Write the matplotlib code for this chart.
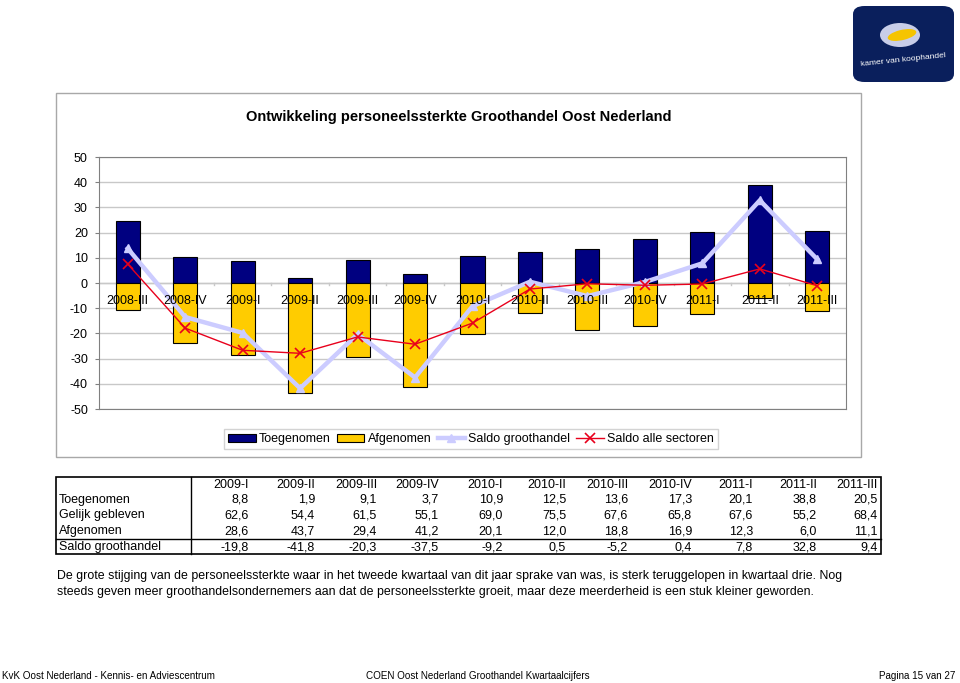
import matplotlib
matplotlib.use('Agg')
import matplotlib.pyplot as plt
from matplotlib.patches import Rectangle, FancyBboxPatch, Ellipse
from matplotlib.lines import Line2D
import numpy as np

plt.rcParams['font.family'] = ['Liberation Sans', 'DejaVu Sans']
plt.rcParams['axes.unicode_minus'] = False

# chart data (2008-III and 2008-IV)
kwartalen = ['2008-III', '2008-IV', '2009-I', '2009-II', '2009-III', '2009-IV', '2010-I',
             '2010-II', '2010-III', '2010-IV', '2011-I', '2011-II', '2011-III']
toegenomen = [24.5, 10.3, 8.8, 1.9, 9.1, 3.7, 10.9, 12.5, 13.6, 17.3, 20.1, 38.8, 20.5]
afgenomen = [10.8, 23.8, 28.6, 43.7, 29.4, 41.2, 20.1, 12.0, 18.8, 16.9, 12.3, 6.0, 11.1]
saldo_groothandel = [13.7, -13.5, -19.8, -41.8, -20.3, -37.5, -9.2, 0.5, -5.2, 0.4, 7.8, 32.8, 9.4]
saldo_alle = [7.5, -17.9, -26.7, -27.9, -21.4, -24.3, -15.9, -2.4, -0.3, -0.9, -0.4, 5.6, -1.1]

# table data
tabel_kolommen = ['2009-I', '2009-II', '2009-III', '2009-IV', '2010-I', '2010-II',
                  '2010-III', '2010-IV', '2011-I', '2011-II', '2011-III']
tabel_rijen = ['Toegenomen', 'Gelijk gebleven', 'Afgenomen', 'Saldo groothandel']
tabel_toegenomen = ['8,8', '1,9', '9,1', '3,7', '10,9', '12,5', '13,6', '17,3', '20,1', '38,8', '20,5']
tabel_gelijk = ['62,6', '54,4', '61,5', '55,1', '69,0', '75,5', '67,6', '65,8', '67,6', '55,2', '68,4']
tabel_afgenomen = ['28,6', '43,7', '29,4', '41,2', '20,1', '12,0', '18,8', '16,9', '12,3', '6,0', '11,1']
tabel_saldo = ['-19,8', '-41,8', '-20,3', '-37,5', '-9,2', '0,5', '-5,2', '0,4', '7,8', '32,8', '9,4']

W, H = 960, 683
fig = plt.figure(figsize=(W / 100, H / 100), dpi=100)


def fx(px):
    return px / W


def fy(py):
    return 1 - py / H


# chart frame
fig.patches.append(Rectangle((fx(56), fy(457)), fx(861) - fx(56), fy(93) - fy(457),
                             transform=fig.transFigure, fill=False, ec='#a8a8a8', lw=1))
fig.text(fx(459), fy(117), 'Ontwikkeling personeelssterkte Groothandel Oost Nederland',
         ha='center', va='center', fontsize=10.5, fontweight='bold')

ax = fig.add_axes([fx(99), fy(409), fx(846) - fx(99), fy(157) - fy(409)])
x = np.arange(len(kwartalen))
bw = 0.42
b1 = ax.bar(x, toegenomen, bw, color='#000080', edgecolor='black', lw=0.8, zorder=2)
b2 = ax.bar(x, [-a for a in afgenomen], bw, color='#FFCC00', edgecolor='black', lw=0.8, zorder=2)
l1, = ax.plot(x, saldo_groothandel, color='#CCCCFF', lw=3.2, marker='^', ms=6, zorder=3)
l2, = ax.plot(x, saldo_alle, color='#E8001C', lw=1, marker='x', ms=7, mew=1.2, zorder=4)

ax.set_xlim(-0.5, len(kwartalen) - 0.5)
ax.set_ylim(-50, 50)
ax.set_yticks(range(-50, 51, 10))
ax.tick_params(axis='y', labelsize=9, length=3, color='#808080', pad=5)
ax.set_xticks([])
ax.yaxis.grid(True, color='#c8c8c8', lw=1)
ax.set_axisbelow(True)
for s in ax.spines.values():
    s.set_color('#808080')
ax.axhline(0, color='#c8c8c8', lw=1, zorder=1)
for xb in np.arange(0.5, len(kwartalen) - 0.5, 1):
    ax.plot([xb, xb], [0, -0.8], color='#c8c8c8', lw=1, zorder=1)
for i, k in enumerate(kwartalen):
    ax.text(i, -7.3, k, ha='center', va='center', fontsize=9, zorder=5)

fig.legend([b1, b2, l1, l2], ['Toegenomen', 'Afgenomen', 'Saldo groothandel', 'Saldo alle sectoren'],
           loc='center', bbox_to_anchor=(fx(471), fy(439)), ncol=4, fontsize=9,
           frameon=True, fancybox=False, edgecolor='#c8c8c8', handlelength=2.2,
           handleheight=0.6, handletextpad=0.25, columnspacing=0.5, borderpad=0.3,
           borderaxespad=0)

# table
tl, tr, tt, tb = 56, 881, 477, 554
fig.patches.append(Rectangle((fx(tl), fy(tb)), fx(tr) - fx(tl), fy(tt) - fy(tb),
                             transform=fig.transFigure, fill=False, ec='black', lw=1.2))
fig.lines.append(Line2D([fx(191), fx(191)], [fy(tt), fy(tb)], transform=fig.transFigure,
                        color='black', lw=1))
fig.lines.append(Line2D([fx(tl), fx(tr)], [fy(539), fy(539)], transform=fig.transFigure,
                        color='black', lw=1))
kol_rechts = [249, 315, 377, 439, 503, 566, 628, 692, 753, 817, 878]
rij_y = [500, 515, 531, 547]
for xr, k in zip(kol_rechts, tabel_kolommen):
    fig.text(fx(xr), fy(485), k, ha='right', va='center', fontsize=9)
for yr, naam, vals in zip(rij_y, tabel_rijen,
                          [tabel_toegenomen, tabel_gelijk, tabel_afgenomen, tabel_saldo]):
    fig.text(fx(59), fy(yr), naam, ha='left', va='center', fontsize=9)
    for xr, v in zip(kol_rechts, vals):
        fig.text(fx(xr), fy(yr), v, ha='right', va='center', fontsize=9)

# paragraph
fig.text(fx(57), fy(576), 'De grote stijging van de personeelssterkte waar in het tweede kwartaal van dit jaar '
         'sprake van was, is sterk teruggelopen in kwartaal drie. Nog', ha='left', va='center', fontsize=8.9)
fig.text(fx(57), fy(592), 'steeds geven meer groothandelsondernemers aan dat de personeelssterkte groeit, '
         'maar deze meerderheid is een stuk kleiner geworden.', ha='left', va='center', fontsize=8.9)

# footer
fig.text(fx(2), fy(676), 'KvK Oost Nederland - Kennis- en Adviescentrum', ha='left', va='center',
         fontsize=7.1)
fig.text(fx(366), fy(676), 'COEN Oost Nederland Groothandel Kwartaalcijfers', ha='left', va='center',
         fontsize=7.1)
fig.text(fx(955), fy(676), 'Pagina 15 van 27', ha='right', va='center', fontsize=7.1)

# logo
fig.patches.append(FancyBboxPatch((fx(853), fy(82)), fx(954) - fx(853), fy(6) - fy(82),
                                  boxstyle='round,pad=0,rounding_size=0.012',
                                  transform=fig.transFigure, fc='#0a1f5c', ec='none'))
fig.patches.append(Ellipse((fx(900), fy(35)), fx(40), fy(0) - fy(24), transform=fig.transFigure,
                           fc='#c8cde8', ec='none'))
fig.patches.append(Ellipse((fx(902), fy(35)), fx(30), fy(0) - fy(10), angle=20,
                           transform=fig.transFigure, fc='#f5c400', ec='none'))
fig.text(fx(903), fy(60), 'kamer van koophandel', ha='center', va='center', fontsize=6,
         color='white', rotation=6)

fig.savefig('out.png', dpi=100)
